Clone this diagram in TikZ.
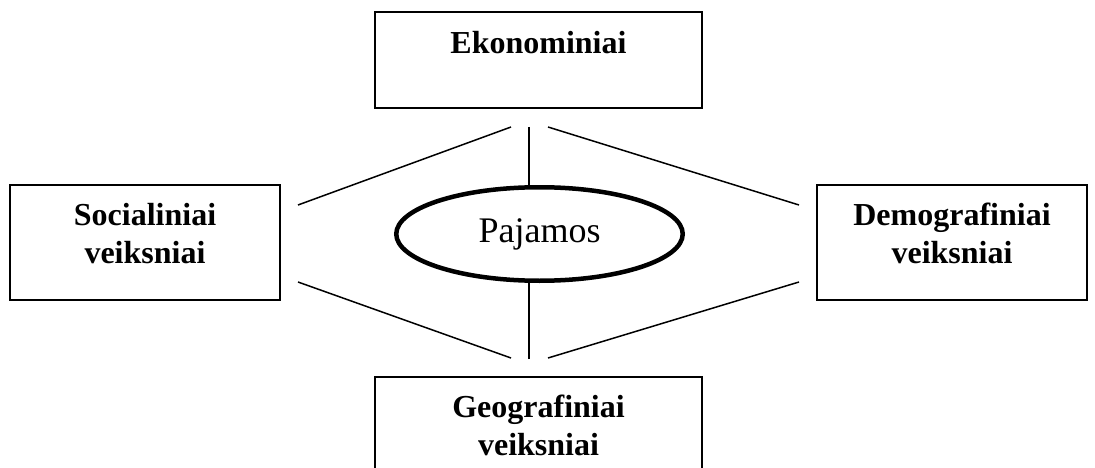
\documentclass[tikz,border=0pt]{standalone}
\usepackage{fontspec}
\setmainfont{Liberation Serif}
\usetikzlibrary{shapes.geometric}

\begin{document}
\begin{tikzpicture}[x=1pt, y=-1pt,
    caja/.style={draw=black, line width=1.3pt, align=center, font=\fontsize{32}{38}\selectfont\bfseries, text depth=18.6pt},
    linea/.style={black, line width=1.5pt}]
    % Marco
    \useasboundingbox (0,0) rectangle (1095,468);
    \clip (0,0) rectangle (1095,468);

    % Cajas
    \node[caja, minimum width=327pt, minimum height=96pt, text depth=35.6pt] (ekon) at (538.5,60) {Ekonominiai};
    \node[caja, minimum width=270pt, minimum height=115pt] (soc) at (145,242.5) {Socialiniai\\veiksniai};
    \node[caja, minimum width=270pt, minimum height=115pt] (dem) at (952,242.5) {Demografiniai\\veiksniai};
    \node[caja, minimum width=327pt, minimum height=115pt] (geo) at (538.5,434.5) {Geografiniai\\veiksniai};

    % Elipse central
    \node[draw=black, ellipse, line width=4.5pt, minimum width=286.5pt, minimum height=93.5pt,
          font=\fontsize{36}{43}\selectfont] (paj) at (539.5,234) {Pajamos};

    % Puntos de las rectas
    \coordinate (tl1) at (298,205); \coordinate (tl2) at (511,127);
    \coordinate (tr1) at (548,127); \coordinate (tr2) at (799,205);
    \coordinate (bl1) at (298,282); \coordinate (bl2) at (511,358);
    \coordinate (br1) at (548,358); \coordinate (br2) at (799,282);
    \coordinate (vt) at (529,127);  \coordinate (vb) at (529,359);

    % Rectas
    \draw[linea] (tl1) -- (tl2);
    \draw[linea] (tr1) -- (tr2);
    \draw[linea] (bl1) -- (bl2);
    \draw[linea] (br1) -- (br2);
    \draw[linea] (vt) -- (vt |- paj.north);
    \draw[linea] (vb) -- (vb |- paj.south);
\end{tikzpicture}
\end{document}
